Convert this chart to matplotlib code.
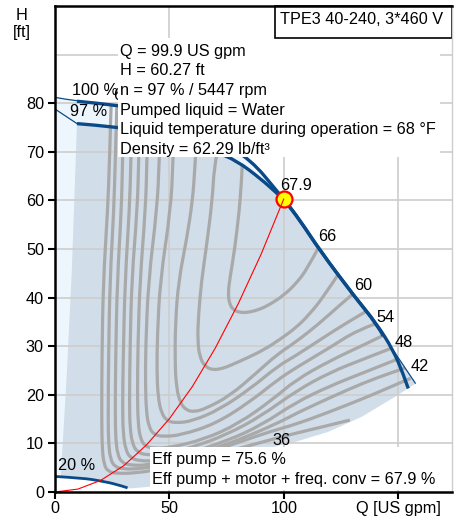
import matplotlib
matplotlib.use('Agg')
import matplotlib.pyplot as plt
from matplotlib.patches import Polygon, Rectangle, PathPatch
from matplotlib.path import Path

plt.rcParams['font.family'] = ['Liberation Sans', 'DejaVu Sans']

# ---------------- data ----------------
# 100 % speed curve (Q [US gpm], H [ft])
c100_q = [0, 9.6, 27.5, 40, 55, 70, 85.9, 96.8, 99.9, 107, 115.7, 131, 140.5, 143.4, 150, 157.5]
c100_h = [81.2, 80.4, 79.6, 78.5, 76.3, 73.0, 68.2, 62.0, 60.27, 55.9, 49.7, 40.1, 34.6, 32.1, 27.6, 22.3]
# 97 % speed curve
c97_q = [0, 9.6, 27.5, 40, 55, 70, 79.3, 90, 96.8, 99.9, 107, 115.7, 131, 140.5, 147.7, 152, 154.3]
c97_h = [78.8, 75.8, 75.1, 74.1, 72.3, 70.0, 68.2, 64.4, 61.5, 60.27, 55.9, 49.7, 40.1, 34.6, 29.2, 24.4, 21.3]
# 20 % speed curve
c20_q = [0, 12.4, 19.7, 26.9, 31.7]
c20_h = [3.2, 2.85, 2.3, 1.6, 0.85]
# lower boundary of operating range
low_q = [32.8, 41.5, 55, 70, 85, 98.3, 104.8, 119.4, 134, 148.5, 157.5]
low_h = [0.75, 1.1, 3.2, 5.6, 7.8, 9.65, 10.3, 12.4, 15.5, 19.6, 22.3]
# left (min flow) boundary of operating range
left_q = [2.5, 5.0, 7.3, 9.6]
left_h = [3.05, 23.0, 45.0, 75.8]
# system curve
sys_q = [0, 10, 20, 30, 40, 50, 60, 70, 80, 90, 99.9]
sys_h = [0, 0.6, 2.4, 5.4, 9.7, 15.1, 21.7, 29.6, 38.7, 48.9, 60.27]
# duty point
duty_q, duty_h = 99.9, 60.27

# efficiency contours (%): lists of (Q, H)
eff36 = [(24.5,79.5),(23.8,68),(23.0,58),(21.1,43.5),(20.5,28),(20.4,15),(20.6,9),(21.4,5.6),(23.2,4.2),(27,3.8),(35,3.9),(45,4.6),(60,6.3),(75,8.3),(90,10.2),(100,11.5),(115,13.2),(128.8,14.8)]
eff39 = [(27,79.3),(26.3,68),(25.7,58),(24,43.5),(23.4,28),(23.2,15),(23.4,10),(24.2,6.8),(26,5.2),(30,4.7),(38,4.8),(50,5.8),(65,7.8),(80,10.2),(95,12.6),(105,13.9),(120,16.5),(135,19.3),(145,21.3),(155.3,23.4)]
eff42 = [(30,79),(29.5,68),(29,58),(27.2,43.5),(26.5,28),(26.3,16),(26.5,11),(27.3,7.8),(29.2,6),(33,5.5),(40,5.5),(55,6.8),(70,9),(85,11.6),(100,14.8),(105,16.1),(120,19.4),(135,22.5),(146,24.4),(152.8,25.5)]
eff45 = [(33.5,78.7),(33.2,68),(32.5,58),(30.6,43.5),(29.8,28),(29.5,17),(29.8,12),(30.8,8.8),(32.8,7),(37,6.4),(44,6.4),(58,7.9),(75,10.5),(90,13.7),(105,18.4),(120,21.8),(135,24.6),(149.4,27.3)]
eff48 = [(37,78.3),(36.6,68),(35.9,58),(33.5,43.5),(32.8,30),(32.5,18),(32.8,13),(33.8,10),(35.8,8.2),(40,7.6),(47,7.7),(60,9.2),(75,11.8),(90,15.6),(105,20.7),(120,24.6),(135,27.4),(147,29.6)]
eff51 = [(40.5,78),(40.2,68),(39.5,58),(37.1,43.5),(36.2,30),(36,20),(36.3,14),(37.3,11),(39.3,9.4),(43,9),(50,9.1),(65,10.8),(80,14),(95,19),(105,23),(120,27),(135,30.3),(143.7,32.3)]
eff54 = [(46,77.3),(45.6,68),(44.5,58),(40.8,43.5),(39.6,30),(39.5,22),(39.9,16.5),(41,13.4),(43.2,11.8),(47,11.4),(55,11.7),(70,14),(85,18.5),(97,23),(105,25.5),(120,29.7),(132,33.3),(140.5,34.7)]
eff57 = [(52,76.5),(51.6,68),(50.5,58),(45.9,43.5),(44.7,32),(44.5,25),(45,19.5),(46.5,16.2),(49,14.6),(53,14.2),(60,14.6),(72,17),(86,21.5),(97,25.8),(105,28),(118,32.0),(127,34.7),(136,37.2)]
eff60 = [(61.8,72.5),(61.1,66.8),(60.1,60),(57.5,52),(54,43.5),(52.6,35),(52.4,27),(53,21.5),(54.8,18.2),(57.5,16.8),(61,16.5),(66,17.2),(76.4,19.8),(88,24.5),(97,28.3),(105,30.8),(115,34.5),(124,38.3),(130,40.7)]
eff63 = [(70.8,69.8),(69.5,66.8),(68.7,60),(66,50),(64,43.5),(62.6,36),(62.3,31.2),(63.2,27.8),(65.5,25.8),(69,25.1),(73,25.4),(76.4,26.0),(84,27.6),(91,29.2),(98,31.3),(105.5,33.9),(111,36.5),(117.2,40.1),(123.6,44.7)]
eff66 = [(81.8,67.2),(81.3,63),(80.5,58),(78.5,50),(76.4,44),(75.6,41),(76.2,38.6),(78.3,37.3),(81.5,36.9),(85,37.0),(89.5,37.6),(93.9,38.6),(100,40.5),(105.5,43.0),(110,45.8),(115,50.2)]
eff_contours = [eff36, eff39, eff42, eff45, eff48, eff51, eff54, eff57, eff60, eff63, eff66]

eff_labels = ['67.9', '66', '60', '54', '48', '42', '36']
eff_label_pos = [(105.2, 63.1), (119.0, 52.6), (134.7, 42.4), (144.5, 35.9),
                 (152.4, 30.7), (159.4, 25.9), (98.9, 10.5)]

info_lines = ['Q = 99.9 US gpm', 'H = 60.27 ft', 'n = 97 % / 5447 rpm',
              'Pumped liquid = Water', 'Liquid temperature during operation = 68 °F',
              'Density = 62.29 lb/ft³']
eff_lines = ['Eff pump = 75.6 %', 'Eff pump + motor + freq. conv = 67.9 %']
title = 'TPE3 40-240, 3*460 V'
xticks = [0, 50, 100, 150]
xticklabels = ['0', '50', '100', 'Q [US gpm]']
yticks = [0, 10, 20, 30, 40, 50, 60, 70, 80]

# ---------------- style ----------------
FS = 11.7
BLUE = '#0b4a88'
GRAY = '#a9a9a9'
DARK = '#d1dde9'
LIGHT = '#eef6fd'


def smooth_path(pts):
    """Quadratic-Bezier path using the points as control points."""
    verts = [pts[0]]
    codes = [Path.MOVETO]
    if len(pts) == 2:
        verts.append(pts[1]); codes.append(Path.LINETO)
        return Path(verts, codes)
    for i in range(1, len(pts) - 1):
        p, nxt = pts[i], pts[i + 1]
        end = pts[-1] if i == len(pts) - 2 else ((p[0] + nxt[0]) / 2, (p[1] + nxt[1]) / 2)
        verts += [p, end]
        codes += [Path.CURVE3, Path.CURVE3]
    return Path(verts, codes)


def draw_curve(ax, pts, **kw):
    ax.add_patch(PathPatch(smooth_path(pts), facecolor='none', **kw))


fig = plt.figure(figsize=(4.54, 5.20), dpi=100)
ax = fig.add_axes([55/454, 28/520, (452-55)/454, (492-6)/520])
ax.set_xlim(0, 173.4)
ax.set_ylim(0, 100)

# regions
light_pts = list(zip(c100_q, c100_h)) + list(zip(low_q[::-1], low_h[::-1])) + list(zip(c20_q[::-1], c20_h[::-1]))
ax.add_patch(Polygon(light_pts, closed=True, facecolor=LIGHT, edgecolor='none', zorder=0.5))
top97 = [(q, h) for q, h in zip(c97_q, c97_h) if 9.6 <= q <= 140.5]
tail100 = [(q, h) for q, h in zip(c100_q, c100_h) if q > 140.5]
c20_part = [(q, h) for q, h in zip(c20_q, c20_h) if q > 2.5]
dark_pts = list(zip(left_q, left_h)) + top97 + tail100 + list(zip(low_q[::-1], low_h[::-1])) + c20_part[::-1]
ax.add_patch(Polygon(dark_pts, closed=True, facecolor=DARK, edgecolor='none', zorder=0.6))

# grid
for h in range(10, 100, 10):
    ax.axhline(h, color='#cdcdcd', lw=1.2, zorder=1)
for q in [50, 100, 150]:
    ax.axvline(q, color='#cdcdcd', lw=1.2, zorder=1)

# contours
for c in eff_contours:
    draw_curve(ax, c, edgecolor=GRAY, lw=2.3, joinstyle='round', capstyle='butt', zorder=2)

# speed curves
draw_curve(ax, list(zip(c100_q, c100_h)), edgecolor=BLUE, lw=0.9, zorder=3)
thick100 = [(q, h) for q, h in zip(c100_q, c100_h) if 9.6 <= q <= 143.4]
draw_curve(ax, thick100, edgecolor=BLUE, lw=2.4, capstyle='butt', zorder=3)
ax.plot(c97_q[:2], c97_h[:2], color=BLUE, lw=0.9, zorder=3)
draw_curve(ax, list(zip(c97_q[1:], c97_h[1:])), edgecolor=BLUE, lw=2.4, capstyle='butt', zorder=3)
draw_curve(ax, list(zip(c20_q, c20_h)), edgecolor=BLUE, lw=2.0, capstyle='butt', zorder=3)

# duty point + system curve
ax.plot([duty_q], [duty_h], 'o', ms=11.5, mfc='#ffff00', mec='#ff0000', mew=1.6, zorder=4)
ax.plot(sys_q, sys_h, color='#ff0000', lw=0.8, zorder=5)

# labels
for t, (x, y) in zip(eff_labels, eff_label_pos):
    ax.text(x, y, t, fontsize=FS, ha='center', va='center', zorder=4)
ax.text(25.3, 81.6, '66', fontsize=FS, ha='left', va='center', zorder=4)
ax.text(7.4, 82.6, '100 %', fontsize=FS, ha='left', va='center', zorder=4)
ax.text(6.6, 78.3, '97 %', fontsize=FS, ha='left', va='center', zorder=4)
ax.text(1.3, 5.4, '20 %', fontsize=FS, ha='left', va='center', zorder=4)

# info box
ax.add_patch(Rectangle((27.5, 68.9), 168.1-27.5, 93.4-68.9, facecolor='white', edgecolor='none', zorder=6))
info_base = [89.8, 85.8, 81.7, 77.6, 73.6, 69.5]
for t, y in zip(info_lines, info_base):
    ax.text(28.4, y, t, fontsize=FS, ha='left', va='baseline', zorder=7)

# efficiency box
ax.add_patch(Rectangle((41.5, 0.4), 168.1-41.5, 9.25-0.4, facecolor='white', edgecolor='none', zorder=6))
for t, y in zip(eff_lines, [5.76, 1.65]):
    ax.text(42.4, y, t, fontsize=FS, ha='left', va='baseline', zorder=7)

# title box
ax.add_patch(Rectangle((96.1, 93.4), 173.4-96.1, 6.6, facecolor='white', edgecolor='black', lw=1.2, zorder=8, clip_on=False))
ax.text(98.3, 96.2, title, fontsize=FS, ha='left', va='baseline', zorder=9)

# axes styling
for s in ['left', 'bottom', 'top']:
    ax.spines[s].set_color('black')
    ax.spines[s].set_linewidth(1.8)
ax.spines['right'].set_color('#cdcdcd')
ax.spines['right'].set_linewidth(1.0)
for s in ax.spines.values():
    s.set_zorder(10)
ax.set_xticks(xticks)
ax.set_xticklabels(xticklabels)
ax.set_yticks(yticks)
ax.tick_params(axis='both', direction='out', length=5, width=1.5, labelsize=FS, color='black')
ax.tick_params(axis='x', pad=1.5)
ax.tick_params(axis='y', pad=3)

fig.text(22/454, 1-16/520, 'H', fontsize=FS, ha='center', va='center')
fig.text(22/454, 1-32/520, '[ft]', fontsize=FS, ha='center', va='center')

fig.savefig('out.png', dpi=100)
